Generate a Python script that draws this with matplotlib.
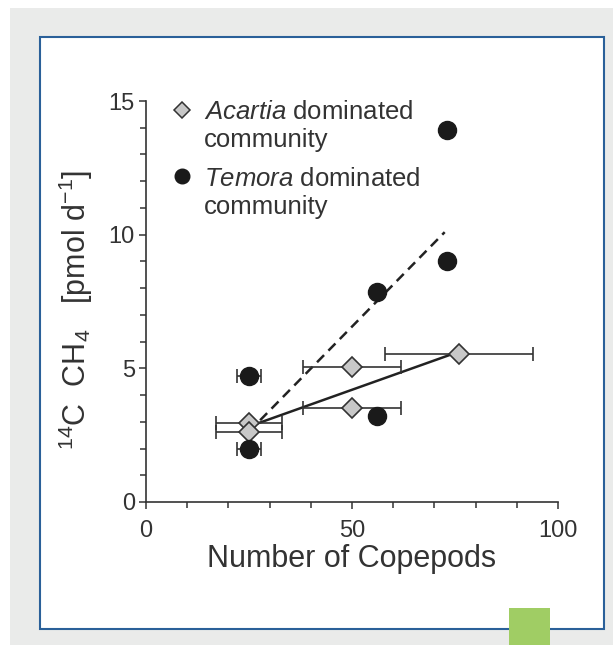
import numpy as np
import matplotlib
matplotlib.use('Agg')
import matplotlib.pyplot as plt
from matplotlib.patches import Rectangle
from matplotlib.ticker import MultipleLocator

plt.rcParams['font.family'] = ['Liberation Sans', 'DejaVu Sans']
plt.rcParams['mathtext.fontset'] = 'custom'
plt.rcParams['mathtext.rm'] = 'Liberation Sans'
plt.rcParams['mathtext.it'] = 'Liberation Sans:italic'

# Acartia dominated community (diamonds)
acartia_x = [25, 25, 50, 50, 76]
acartia_y = [2.95, 2.62, 5.05, 3.5, 5.55]
acartia_xerr = [8, 8, 12, 12, 18]

# Temora dominated community (circles)
temora_x = [25, 25, 56, 56, 73, 73]
temora_y = [4.7, 1.97, 3.2, 7.85, 13.9, 9.0]
temora_xerr = [3, 3, 0, 0, 0, 0]

# span of the regression lines
acartia_fit_range = [27, 76]
temora_fit_range = [27.7, 72.5]

legend_names = ['Acartia', 'Temora']

ink = '#333333'

fig = plt.figure(figsize=(6.13, 6.45), dpi=100)
fig.patch.set_facecolor('white')

# page background, framed panel and green corner box
fig.add_artist(Rectangle((10 / 613, 0), 1, 1 - 8 / 645, transform=fig.transFigure,
                         facecolor='#eaebea', edgecolor='none', zorder=-10))
fig.add_artist(Rectangle((40 / 613, 1 - 629 / 645), 564 / 613, 592 / 645,
                         transform=fig.transFigure, facecolor='white',
                         edgecolor='#2a6099', linewidth=1.5, zorder=-9))
fig.add_artist(Rectangle((509 / 613, 0), 41 / 613, 37 / 645, transform=fig.transFigure,
                         facecolor='#a0cd64', edgecolor='none', zorder=-8))

ax = fig.add_axes([146 / 613, 143 / 645, 412 / 613, 401 / 645])
ax.set_facecolor('none')

# regression lines
p_a = np.polyfit(acartia_x, acartia_y, 1)
p_t = np.polyfit(temora_x, temora_y, 1)
xa = np.array(acartia_fit_range)
xt = np.array(temora_fit_range)
ax.plot(xa, np.polyval(p_a, xa), '-', color='#222222', lw=1.8, zorder=2)
ax.plot(xt, np.polyval(p_t, xt), color='#222222', lw=1.8, dashes=(4, 2.5), zorder=2)

# error bars + markers
ax.errorbar(acartia_x, acartia_y, xerr=acartia_xerr, fmt='none', ecolor=ink,
            elinewidth=1.2, capsize=5, capthick=1.2, zorder=3)
ax.errorbar(temora_x, temora_y, xerr=temora_xerr, fmt='none', ecolor=ink,
            elinewidth=1.2, capsize=5, capthick=1.2, zorder=3)
ax.plot(acartia_x, acartia_y, 'D', ms=10.5, mfc='#c8c8c8', mec='#333333', mew=1.2,
        ls='none', zorder=4)
ax.plot(temora_x, temora_y, 'o', ms=13, mfc='#1a1a1a', mec='#1a1a1a',
        ls='none', zorder=5)

ax.set_xlim(0, 100)
ax.set_ylim(0, 15)
ax.xaxis.set_major_locator(MultipleLocator(50))
ax.xaxis.set_minor_locator(MultipleLocator(10))
ax.yaxis.set_major_locator(MultipleLocator(5))
ax.yaxis.set_minor_locator(MultipleLocator(1))
for s in ['top', 'right']:
    ax.spines[s].set_visible(False)
for s in ['left', 'bottom']:
    ax.spines[s].set_color(ink)
    ax.spines[s].set_linewidth(1.2)
ax.tick_params(which='both', direction='out', color=ink, width=1.1, labelcolor=ink,
               labelsize=17)
ax.tick_params(which='major', length=5, pad=3)
ax.tick_params(which='minor', length=4)
ax.tick_params(axis='x', which='major', pad=8)

ax.set_xlabel('Number of Copepods', fontsize=22, color=ink)
ax.set_ylabel(r'$^{14}$C  CH$_4$   [pmol d$^{-1}$]', fontsize=22, color=ink)
ax.xaxis.set_label_coords(0.5, -0.105)
ax.yaxis.set_label_coords(-0.123, 0.48)

# legend drawn by hand so the marker sits on the first line
leg_y = [0.978, 0.812]
line_gap = 0.07
ax.plot(0.087, leg_y[0], 'D', ms=8, mfc='#c8c8c8', mec='#333333', mew=1.1,
        transform=ax.transAxes, clip_on=False)
ax.plot(0.087, leg_y[1], 'o', ms=10.5, mfc='#1a1a1a', mec='#1a1a1a',
        transform=ax.transAxes, clip_on=False)
for name, y in zip(legend_names, leg_y):
    ax.text(0.14, y, r'$\it{' + name + '}$ dominated', transform=ax.transAxes,
            fontsize=18.5, color=ink, va='center_baseline', ha='left')
    ax.text(0.14, y - line_gap, 'community', transform=ax.transAxes,
            fontsize=18.5, color=ink, va='center_baseline', ha='left')

fig.savefig('out.png', dpi=100, facecolor=fig.get_facecolor())
